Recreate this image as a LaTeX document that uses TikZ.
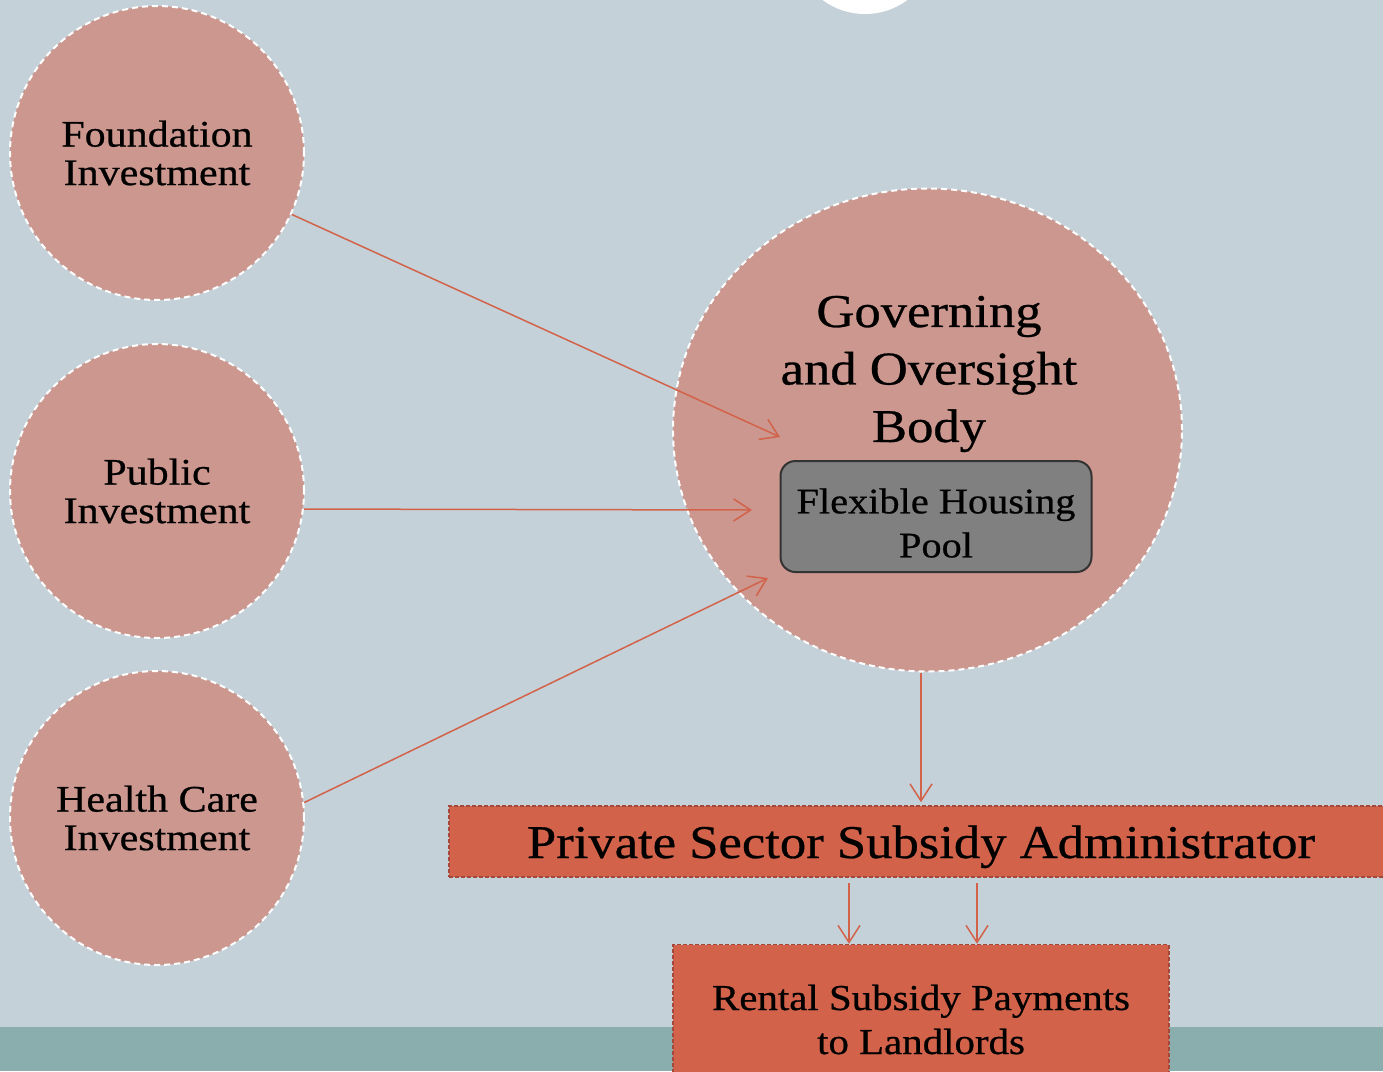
\documentclass[tikz,border=0pt]{standalone}
\usepackage{fontspec}
\setmainfont{Liberation Serif}[FakeStretch=1.12,FakeBold=0.6]
\usetikzlibrary{arrows.meta,shapes.geometric}
\definecolor{bgblue}{HTML}{C5D1D8}
\definecolor{rose}{HTML}{CC978E}
\definecolor{rust}{HTML}{D2634A}
\definecolor{rustdark}{HTML}{A4483A}
\definecolor{bandteal}{HTML}{8AADAD}
\definecolor{poolgray}{HTML}{808080}

\begin{document}
\begin{tikzpicture}[x=1pt,y=-1pt,
	invest/.style={draw=white,line width=2pt,dash pattern=on 6pt off 4pt,circle,fill=rose,minimum size=294pt,inner sep=0pt,align=center,font=\fontsize{37.5}{38.5}\selectfont},
	govern/.style={draw=white,line width=2pt,dash pattern=on 6pt off 4pt,ellipse,fill=rose,minimum width=509pt,minimum height=483pt,inner sep=0pt},
	poolbox/.style={draw=black!80,line width=2pt,rectangle,rounded corners=15pt,fill=poolgray,minimum width=311pt,minimum height=111pt,inner sep=0pt,align=center,font=\fontsize{36}{44}\selectfont},
	rustbox/.style={preaction={draw=white!70!bgblue,line width=1.5pt},draw=rustdark,line width=1.5pt,dash pattern=on 4pt off 2pt,rectangle,fill=rust,inner sep=0pt,align=center},
	flow/.style={draw=rust,line width=1.5pt,-{Straight Barb[length=17pt,width=22pt,line width=1.5pt]}}]
	\useasboundingbox (0,0) rectangle (1383,1071);
	\clip (0,0) rectangle (1383,1071);
	\fill[bgblue] (0,0) rectangle (1383,1071);
	\fill[bandteal] (0,1027) rectangle (1383,1071);
	\fill[white] (865,-57) circle (71);
			\node[invest] (FI)at(157,153) {Foundation\\Investment};
			\node[invest] (PI)at(157,491) {Public\\Investment};
			\node[invest] (HI)at(157,818) {Health Care\\Investment};
			\node[govern] (GOB)at(927.5,430) {};
			\node[align=center,inner sep=0pt,font=\fontsize{47}{57.5}\selectfont] (GOBt)at(929,374) {Governing\\and Oversight\\Body};
			\node[poolbox] (FHP)at(936,516.5) {\rule{0pt}{38pt}Flexible Housing\\Pool};
			\coordinate (tipF)at(780,437);
			\coordinate (tipP)at(752,510);
			\coordinate (tipH)at(768,578);
			\draw[flow] (FI) -- (tipF);
			\draw[flow] (PI.-7) -- (tipP);
			\draw[flow] (HI.6) -- (tipH);
			\node[rustbox,minimum width=944pt,minimum height=71pt,text height=43pt,text depth=10pt,font=\fontsize{47}{57}\selectfont] (PSA)at(921,841.5) {Private Sector Subsidy Administrator};
			\node[rustbox,minimum width=496pt,minimum height=150pt,font=\fontsize{36.5}{44}\selectfont] (RSP)at(921,1019.5) {Rental Subsidy Payments\\to Landlords};
			\draw[flow,shorten >=3pt] (PSA.north |- GOB.south) -- (PSA.north);
			\draw[flow,shorten <=5pt] ([xshift=-72pt]PSA.south) -- ([xshift=-72pt]RSP.north);
			\draw[flow,shorten <=5pt] ([xshift=56pt]PSA.south) -- ([xshift=56pt]RSP.north);
\end{tikzpicture}
\end{document}
